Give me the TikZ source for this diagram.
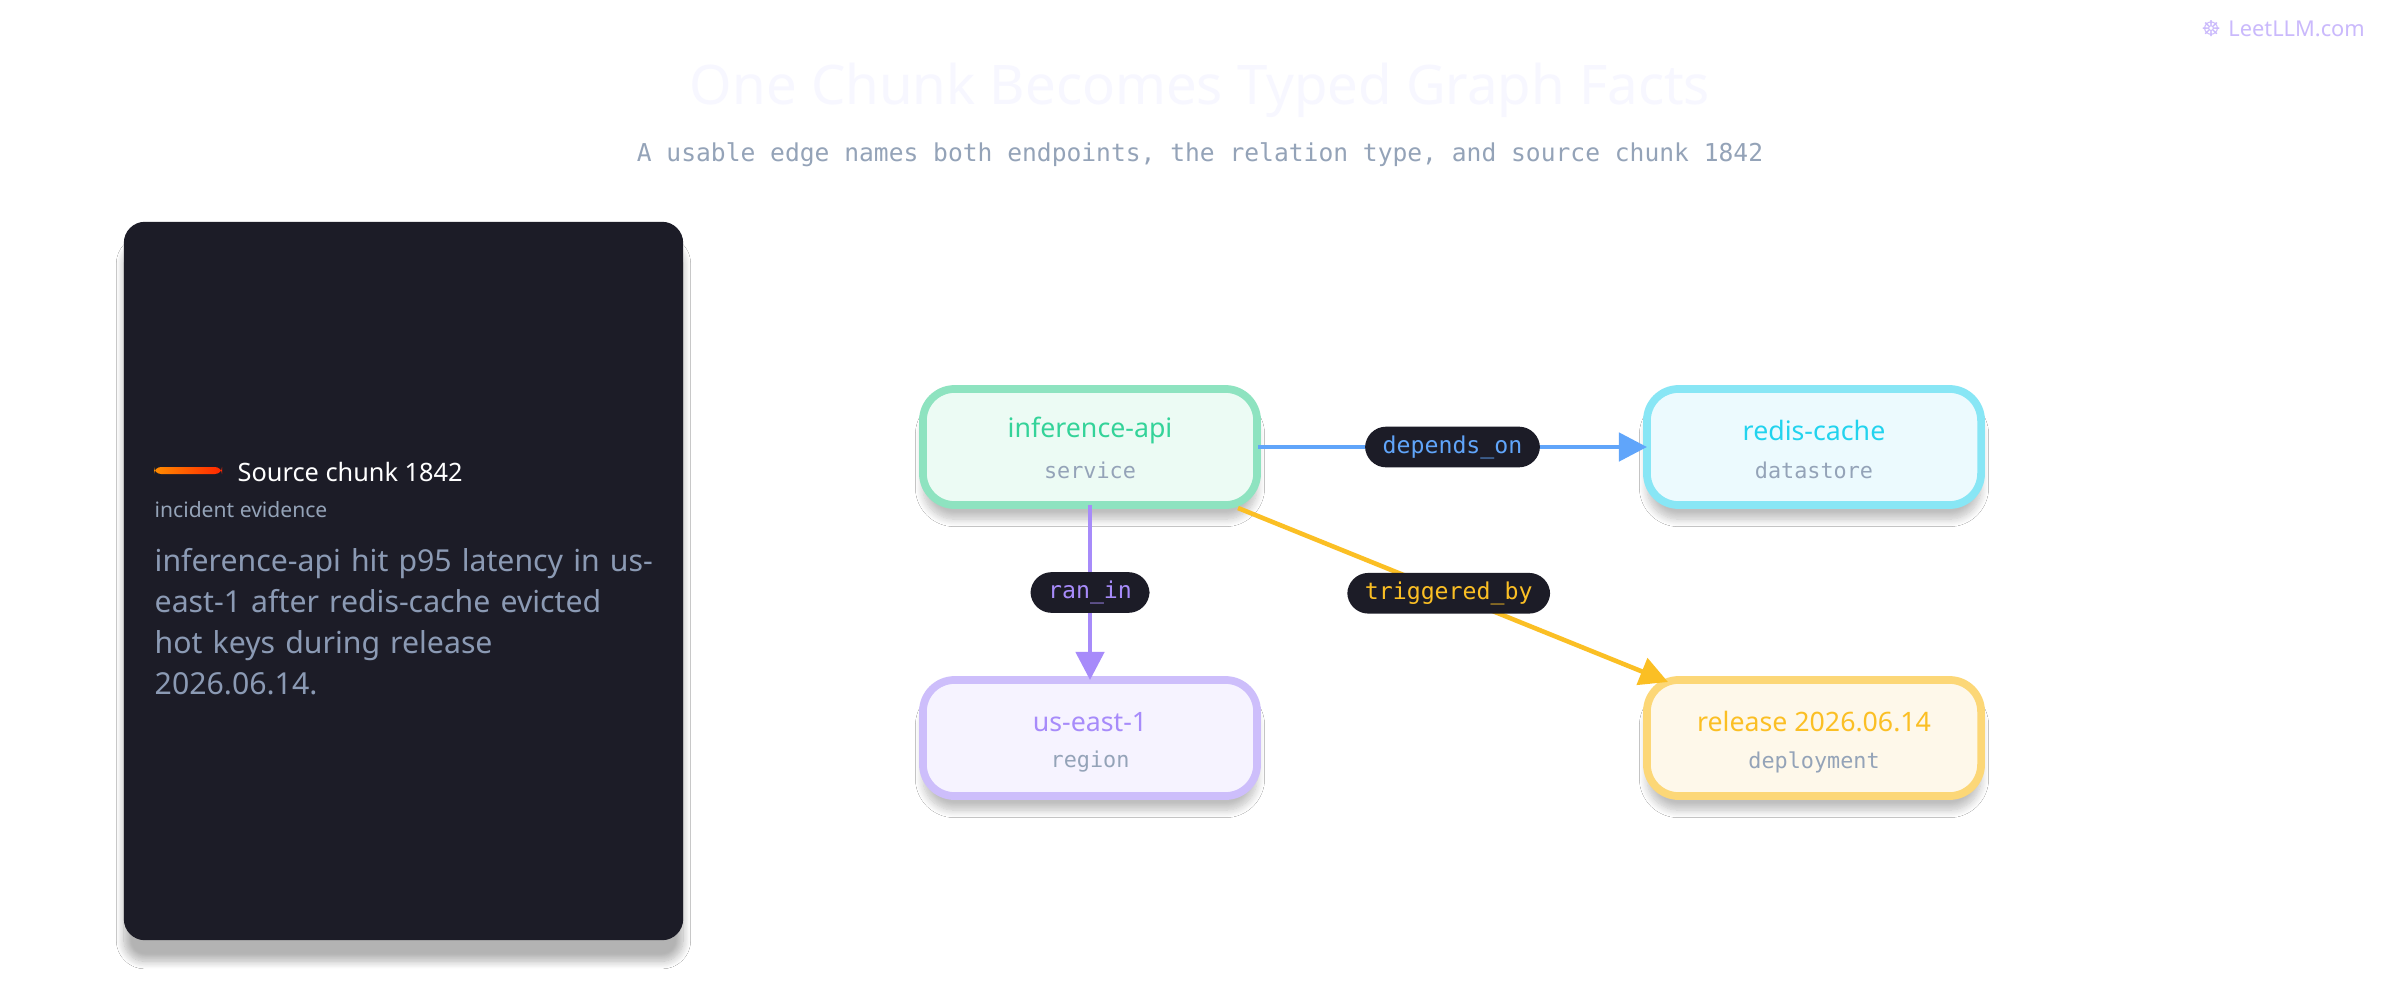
\documentclass[tikz,border=0pt]{standalone}
\usepackage{fontspec}
\setmainfont{Noto Sans}
\setmonofont{DejaVu Sans Mono}
\usetikzlibrary{shadows.blur,arrows.meta}
\definecolor{panel}{HTML}{1C1C27}
\definecolor{sub}{HTML}{94A3B8}
\definecolor{body}{HTML}{8B9AB4}
\definecolor{gA}{HTML}{34D399}\definecolor{gF}{HTML}{ECFBF4}\definecolor{gD}{HTML}{8EE3C0}
\definecolor{cA}{HTML}{22D3EE}\definecolor{cF}{HTML}{ECFAFE}\definecolor{cD}{HTML}{88E6F5}
\definecolor{pA}{HTML}{A78BFA}\definecolor{pF}{HTML}{F6F3FF}\definecolor{pD}{HTML}{CDBEFB}
\definecolor{yA}{HTML}{FBBF24}\definecolor{yF}{HTML}{FEF8EA}\definecolor{yD}{HTML}{FCD777}
\definecolor{bA}{HTML}{60A5FA}
\tikzset{
 ent/.style={draw=#1D,fill=#1F,line width=2.2pt,rounded corners=9pt,minimum width=3.34cm,minimum height=1.16cm,
   blur shadow={shadow xshift=0pt,shadow yshift=-4pt,shadow blur steps=10,shadow opacity=25}},
 nm/.style={font=\fontsize{7.6}{9}\selectfont\bfseries,text=#1},
 ty/.style={font=\ttfamily\fontsize{6.2}{8}\selectfont,text=sub},
 lbl/.style={fill=panel,rounded corners=6pt,inner xsep=5pt,inner ysep=2.5pt,font=\ttfamily\fontsize{6.6}{8}\selectfont,text=#1},
 edge/.style={draw=#1,line width=1.3pt,-{Triangle[length=8pt,width=8pt,fill=#1]}},
}
\begin{document}
\begin{tikzpicture}[x=0.01cm,y=-0.01cm]
\fill[white] (0,0) rectangle (2400,1000);
\node[font=\fontsize{15.5}{18}\selectfont\bfseries,text=black!5!blue!3!white] (title) at (1200,90) {One Chunk Becomes Typed Graph Facts};
\node[font=\ttfamily\fontsize{7}{9}\selectfont,text=sub] (subt) at (1200,155) {A usable edge names both endpoints, the relation type, and source chunk 1842};
\node[font=\fontsize{6.2}{8}\selectfont\bfseries,text=pA!60!white] (logo) at (2283,29) {\fontspec{DejaVu Sans}☸\ \normalfont\bfseries LeetLLM.com};
% panel
\node[fill=panel,rounded corners=6pt,minimum width=5.59cm,minimum height=7.18cm,
  blur shadow={shadow xshift=0pt,shadow yshift=-6pt,shadow blur steps=12,shadow opacity=30}] (panel) at (403.5,581) {};
\shade[left color=orange!90!yellow,right color=red!70!orange,rounded corners=2pt] (154,467) rectangle (222,474);
\node[anchor=west,font=\fontsize{7.2}{9}\selectfont\bfseries,text=white,inner sep=0pt] (src) at (237,472) {Source chunk 1842};
\node[anchor=west,font=\fontsize{6}{8}\selectfont,text=sub,inner sep=0pt] (ev) at (154,510) {incident evidence};
\node[anchor=north west,align=left,text width=5cm,font=\fontsize{8.6}{11.6}\selectfont,text=body,inner sep=0pt] (txt) at (154,548)
 {inference-api hit p95 latency in us-\\east-1 after redis-cache evicted\\hot keys during release\\2026.06.14.};
% nodes
\node[ent=g] (inf) at (1090,447) {};
\node[nm=gA] (infn) at (1090,430) {inference-api};
\node[ty] (inft) at (1090,470) {service};
\node[ent=c] (red) at (1814,447) {};
\node[nm=cA] (redn) at (1814,430) {redis-cache};
\node[ty] (redt) at (1814,470) {datastore};
\node[ent=p] (use) at (1090,738) {};
\node[nm=pA] (usen) at (1090,722) {us-east-1};
\node[ty] (uset) at (1090,762) {region};
\node[ent=y] (rel) at (1814,738) {};
\node[nm=yA] (reln) at (1814,722) {release 2026.06.14};
\node[ty] (relt) at (1814,762) {deployment};
% edges
\coordinate (a1) at (1258,447); \coordinate (b1) at (1647,447);
\draw[edge=bA] (a1) -- (b1) node[midway,lbl=bA] {depends\_on};
\coordinate (a2) at (1090,505); \coordinate (b2) at (1090,680);
\draw[edge=pA] (a2) -- (b2) node[pos=0.5,lbl=pA] {ran\_in};
\coordinate (a3) at (1238,508); \coordinate (b3) at (1668,682);
\draw[edge=yA] (a3) -- (b3) node[pos=0.49,lbl=yA] {triggered\_by};
\end{tikzpicture}
\end{document}
